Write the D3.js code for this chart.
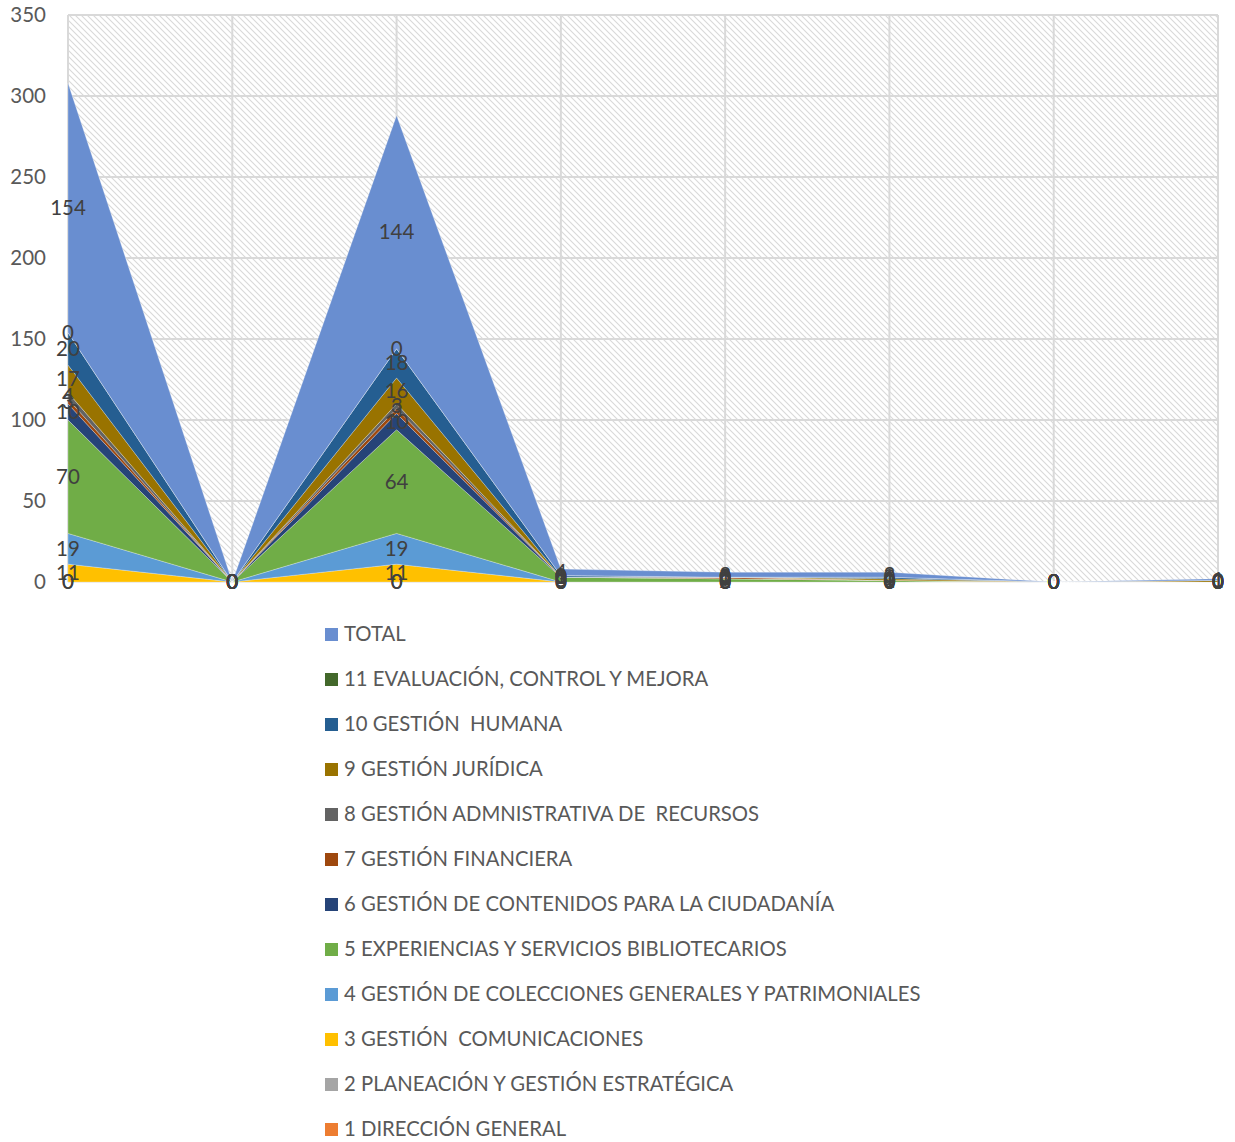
<!DOCTYPE html>
<html>
<head>
<meta charset="utf-8">
<script src="https://cdn.jsdelivr.net/npm/d3@7"></script>
<style>
  body { margin: 0; background: #fff; }
  svg text { font-family: Lato, "Open Sans", sans-serif; white-space: pre; }
</style>
</head>
<body>
<svg id="chart" width="1235" height="1142"></svg>
<script>
// Eight category positions (no visible category names)
const categories = [0, 1, 2, 3, 4, 5, 6, 7];

// Series, in stacking order from bottom to top
const seriesNames = [
  "1 DIRECCIÓN GENERAL",
  "2 PLANEACIÓN Y GESTIÓN ESTRATÉGICA",
  "3 GESTIÓN  COMUNICACIONES",
  "4 GESTIÓN DE COLECCIONES GENERALES Y PATRIMONIALES",
  "5 EXPERIENCIAS Y SERVICIOS BIBLIOTECARIOS",
  "6 GESTIÓN DE CONTENIDOS PARA LA CIUDADANÍA",
  "7 GESTIÓN FINANCIERA",
  "8 GESTIÓN ADMNISTRATIVA DE  RECURSOS",
  "9 GESTIÓN JURÍDICA",
  "10 GESTIÓN  HUMANA",
  "11 EVALUACIÓN, CONTROL Y MEJORA",
  "TOTAL"
];

const s1  = [0, 0, 0, 0, 0, 0, 0, 0];
const s2  = [0, 0, 0, 0, 0, 0, 0, 0];
const s3  = [11, 0, 11, 0, 0, 0, 0, 0];
const s4  = [19, 0, 19, 0, 0, 0, 0, 0];
const s5  = [70, 0, 64, 3, 2, 1, 0, 0];
const s6  = [10, 0, 10, 0, 0, 0, 0, 0];
const s7  = [3, 0, 3, 0, 1, 0, 0, 0];
const s8  = [4, 0, 3, 0, 0, 0, 0, 0];
const s9  = [17, 0, 16, 0, 0, 1, 0, 1];
const s10 = [20, 0, 18, 1, 0, 1, 0, 0];
const s11 = [0, 0, 0, 0, 0, 0, 0, 0];
const total = [154, 0, 144, 4, 3, 3, 0, 1];

const seriesValues = [s1, s2, s3, s4, s5, s6, s7, s8, s9, s10, s11, total];

const colors = [
  "#ED7D31", "#A5A5A5", "#FFC000", "#5B9BD5", "#70AD47", "#264478",
  "#9E480E", "#636363", "#997300", "#255E91", "#43682B", "#698ED0"
];

const yTicks = [0, 50, 100, 150, 200, 250, 300, 350];

const svg = d3.select("#chart");
const plotLeft = 68, plotRight = 1218, plotTop = 15, plotBottom = 582;

const x = d3.scalePoint().domain(categories).range([plotLeft, plotRight]);
const y = d3.scaleLinear().domain([0, 350]).range([plotBottom, plotTop]);

// Hatched plot background
const defs = svg.append("defs");
const pat = defs.append("pattern")
  .attr("id", "hatch")
  .attr("patternUnits", "userSpaceOnUse")
  .attr("width", 6).attr("height", 6);
pat.append("rect").attr("width", 6).attr("height", 6).attr("fill", "#fff");
pat.append("path")
  .attr("d", "M-1,-1 L7,7 M-4,2 L4,10 M2,-4 L10,4")
  .attr("stroke", "#d9d9d9").attr("stroke-width", 1.1);

svg.append("rect")
  .attr("x", plotLeft).attr("y", plotTop)
  .attr("width", plotRight - plotLeft).attr("height", plotBottom - plotTop)
  .attr("fill", "url(#hatch)");

// Gridlines
svg.append("g")
  .selectAll("line")
  .data(yTicks)
  .join("line")
  .attr("x1", plotLeft).attr("x2", plotRight)
  .attr("y1", d => y(d)).attr("y2", d => y(d))
  .attr("stroke", "#d9d9d9").attr("stroke-width", 2);

svg.append("g")
  .selectAll("line")
  .data(categories)
  .join("line")
  .attr("x1", d => x(d)).attr("x2", d => x(d))
  .attr("y1", plotTop).attr("y2", plotBottom)
  .attr("stroke", "#d9d9d9").attr("stroke-width", 2);

// Stacked areas
const table = categories.map((c, i) => {
  const row = { cat: c };
  seriesNames.forEach((n, k) => { row[n] = seriesValues[k][i]; });
  return row;
});
const stack = d3.stack().keys(seriesNames);
const layers = stack(table);

const area = d3.area()
  .x(d => x(d.data.cat))
  .y0(d => y(d[0]))
  .y1(d => y(d[1]));

svg.append("g")
  .selectAll("path")
  .data(layers)
  .join("path")
  .attr("d", area)
  .attr("fill", (d, i) => colors[i])
  .attr("stroke", "rgba(255,255,255,0.35)")
  .attr("stroke-width", 0.8);

// Y axis labels
const yAxis = svg.append("g")
  .attr("transform", `translate(${plotLeft - 22},0)`)
  .call(d3.axisLeft(y).tickValues(yTicks).tickSize(0).tickPadding(0));
yAxis.select(".domain").remove();
yAxis.selectAll("text")
  .attr("fill", "#595959")
  .style("font-size", "20.5px")
  .style("font-family", "Lato, 'Open Sans', sans-serif");

// Data labels, centered in each band
const labelG = svg.append("g");
layers.forEach((layer, k) => {
  labelG.append("g")
    .selectAll("text")
    .data(layer)
    .join("text")
    .attr("x", d => x(d.data.cat))
    .attr("y", d => y((d[0] + d[1]) / 2))
    .attr("dy", "0.35em")
    .attr("text-anchor", "middle")
    .attr("fill", "#404040")
    .style("font-size", "20.5px")
    .text(d => seriesValues[k][d.data.cat]);
});

// Legend, listed from the top series down
const legend = svg.append("g");
const order = seriesNames.map((n, i) => i).reverse();
order.forEach((k, j) => {
  const ly = 634 + j * 45;
  legend.append("rect")
    .attr("x", 325).attr("y", ly - 6)
    .attr("width", 13).attr("height", 13)
    .attr("fill", colors[k]);
  legend.append("text")
    .attr("x", 344).attr("y", ly)
    .attr("dy", "0.35em")
    .attr("fill", "#595959")
    .style("font-size", "20.3px")
    .text(seriesNames[k]);
});
</script>
</body>
</html>
